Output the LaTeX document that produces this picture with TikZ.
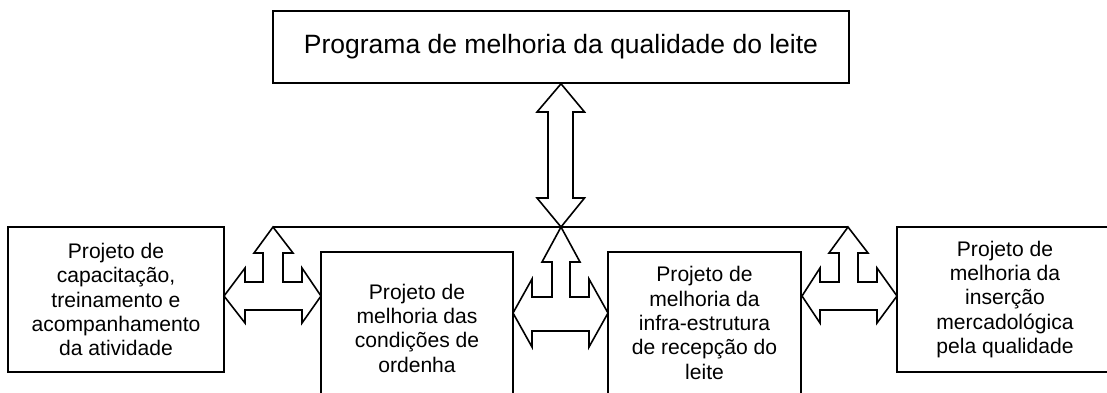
\documentclass[tikz,border=0pt]{standalone}
\usepackage{fontspec}
\setmainfont{Liberation Sans}
\begin{document}
\begin{tikzpicture}[x=1pt,y=-1pt,line width=1.6pt,
  box/.style={draw,rectangle,inner sep=0pt,align=center,font=\fontsize{21.1}{24.3}\selectfont},
  blockarrow/.style={draw,fill=white,line join=miter}]
\useasboundingbox (0,0) rectangle (1107,392);
\clip (0,0) rectangle (1107,392);
\node[box,minimum width=576pt,minimum height=72pt,font=\fontsize{26.5}{30}\selectfont] (top) at (561,47) {Programa de melhoria da qualidade do leite};
\node[box,minimum width=216pt,minimum height=145pt] (b1) at (116,299.5) {Projeto de\\capacitação,\\treinamento e\\acompanhamento\\da atividade};
\node[box,minimum width=192pt,minimum height=152pt] (b2) at (417,328) {Projeto de\\melhoria das\\condições de\\ordenha};
\node[box,minimum width=193pt,minimum height=142pt] (b3) at (704.5,323) {Projeto de\\melhoria da\\infra-estrutura\\de recepção do\\leite};
\node[box,minimum width=216pt,minimum height=145pt] (b4) at (1005,299.5) {Projeto de\\melhoria da\\inserção\\mercadológica\\pela qualidade};
% bus line
\coordinate (busL) at (273,227);
\coordinate (busM) at (561,227);
\coordinate (busR) at (848,227);
\draw (busL) -- (busR);
% vertical double arrow
\draw[blockarrow] (top.south) -- (584.5,112) -- (573,112) -- (573,198) -- (584.5,198) -- (busM)
  -- (537,198) -- (548,198) -- (548,112) -- (537,112) -- cycle;
% left group
\draw[blockarrow] (224,296) -- (245,268) -- (245,282) -- (263,282) -- (263,253) -- (254,253) -- (busL)
  -- (293,253) -- (283,253) -- (283,282) -- (302,282) -- (302,268) -- (321,296)
  -- (302,323) -- (302,310) -- (245,310) -- (245,323) -- cycle;
% middle group
\draw[blockarrow] (513,313) -- (532,279) -- (532,297) -- (552,297) -- (552,262) -- (542,262) -- (busM)
  -- (580,262) -- (570,262) -- (570,297) -- (589,297) -- (589,279) -- (608,313)
  -- (589,347) -- (589,331) -- (532,331) -- (532,347) -- cycle;
% right group
\draw[blockarrow] (802,296) -- (820,268) -- (820,282) -- (839,282) -- (839,253) -- (829,253) -- (busR)
  -- (868,253) -- (858,253) -- (858,282) -- (877,282) -- (877,268) -- (897,296)
  -- (877,323) -- (877,310) -- (820,310) -- (820,323) -- cycle;
\end{tikzpicture}
\end{document}
